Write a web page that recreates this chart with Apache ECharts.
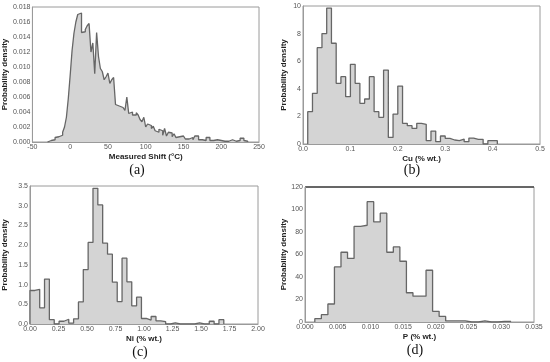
<!DOCTYPE html>
<html><head><meta charset="utf-8">
<script src="https://cdn.jsdelivr.net/npm/echarts@6/dist/echarts.min.js"></script>
<style>html,body{margin:0;padding:0;background:#fff}#c{width:550px;height:362px}</style>
</head><body><div id="c"></div>
<script>
// ---- Data ----
const shiftBinStart = -30, shiftBinWidth = 2.5;
const shiftDensity = [0.0001,0.0002,0.0002,0.0003,0.0006,0.0007,0.0008,0.0009,0.0013,0.0020,0.0033,0.0058,
0.0089,0.0122,0.0145,0.0160,0.0170,0.0172,0.0146,0.0147,0.0150,0.0155,0.0158,0.0120,0.0132,0.0091,0.0146,0.0114,
0.0098,0.0094,0.0083,0.0087,0.0092,0.0078,0.0083,0.0086,0.0050,0.0048,0.0047,0.0046,0.0044,0.0042,0.0060,0.0038,
0.0040,0.0036,0.0036,0.0039,0.0036,0.0030,0.0027,0.0033,0.0020,0.0024,0.0022,0.0018,0.0021,0.0015,0.0013,0.0017,
0.0015,0.0009,0.0018,0.0008,0.0013,0.0012,0.0007,0.0011,0.0006,0.0007,0.0009,0.0008,0.0007,0.0004,0.0004,0.0006,
0.0006,0.0003,0.0008,0.0008,0.0003,0.0003,0.0002,0.0002,0.0006,0.0006,0.0002,0.0002,0.0003,0.0003,0.0003,0.0002,
0.0001,0.0001,0.0001,0.0001,0.0001,0.0003,0.0001,0.0001,0.0001,0.0002,0.0005,0.0005,0.0002,0.0001];

const cuBinStart = 0.01, cuBinWidth = 0.01;
const cuDensity = [2.34,3.67,6.98,8.0,9.85,7.3,4.4,4.88,3.43,5.77,4.4,2.95,3.26,4.88,2.34,1.93,5.36,0.48,2.17,4.2,
1.5,1.33,1.13,1.5,1.43,0.24,0.94,0.17,0.58,0.41,0.29,0.24,0.36,0.17,0.43,0.34,0.34,0,0.24,0.24];

const niBinStart = 0, niBinWidth = 0.0425;
const niDensity = [0.85,0.88,0.41,1.14,0.11,0,0.07,0.12,0.02,0.13,0.56,1.38,2.07,3.44,3.02,2.05,1.77,1.06,0.57,1.67,
1.07,0.46,0.68,0.14,0.10,0.19,0.08,0.06,0,0.03,0,0,0,0,0.03,0,0,0.07,0,0.11];

const pBinStart = 0.0015, pBinWidth = 0.001;
const pDensity = [3,6.5,16,49,62,56.5,85,86,107,89,96.7,62,66.7,54,26,23,23,46,9.5,5,1,1,1,0,0,1,0,0,0.6,0.6];

const xTitles = ['Measured Shift (°C)', 'Cu (% wt.)', 'Ni (% wt.)', 'P (% wt.)'];
const yTitle = 'Probability density';
const panelLabels = ['(a)', '(b)', '(c)', '(d)'];

// ---- Build ----
function stepData(start, width, vals) {
  const d = [[start, 0]];
  vals.forEach((v, i) => d.push([start + i * width, v]));
  d.push([start + vals.length * width, 0]);
  return d;
}
const panels = [
  {data: stepData(shiftBinStart, shiftBinWidth, shiftDensity), grid:{left:31,top:7,width:228,height:135},
   x:{min:-50,max:250,interval:50,fmt:v=>String(v)}, y:{min:0,max:0.018,interval:0.002,fmt:v=>v.toFixed(3)}, yGap:23},
  {data: stepData(cuBinStart, cuBinWidth, cuDensity), grid:{left:303,top:6,width:237,height:138},
   x:{min:0,max:0.5,interval:0.1,fmt:v=>v.toFixed(1)}, y:{min:0,max:10,interval:2,fmt:v=>String(v)}, yGap:15},
  {data: stepData(niBinStart, niBinWidth, niDensity), grid:{left:28,top:186,width:230,height:138},
   x:{min:0,max:2,interval:0.25,fmt:v=>v.toFixed(2)}, y:{min:0,max:3.5,interval:0.5,fmt:v=>v.toFixed(1)}, yGap:21},
  {data: stepData(pBinStart, pBinWidth, pDensity), grid:{left:305,top:187,width:229,height:135},
   x:{min:0,max:0.035,interval:0.005,fmt:v=>v.toFixed(3)}, y:{min:0,max:120,interval:20,fmt:v=>String(v)}, yGap:17}
];
const labelPos = [[137,170],[412,170],[140,352],[415,350]];

const tickLabel = {color:'#555', fontSize:7, fontFamily:'Liberation Sans', margin:2};
const titleStyle = {color:'#222', fontSize:8, fontWeight:'bold', fontFamily:'Liberation Sans'};
const option = {
  animation:false,
  backgroundColor:'#fff',
  grid: panels.map(p => Object.assign({show:true, borderColor:'#9a9a9a', borderWidth:1, backgroundColor:'#fff'}, p.grid)),
  xAxis: panels.map((p,i) => ({type:'value', gridIndex:i, min:p.x.min, max:p.x.max, interval:p.x.interval,
    name:xTitles[i], nameLocation:'middle', nameGap:11, nameTextStyle:titleStyle,
    axisLine:{show:true, onZero:false, lineStyle:{color:'#9a9a9a', width:1}}, axisTick:{show:false}, splitLine:{show:false},
    axisLabel:Object.assign({formatter:p.x.fmt, showMinLabel:true, showMaxLabel:true}, tickLabel)})),
  yAxis: panels.map((p,i) => ({type:'value', gridIndex:i, min:p.y.min, max:p.y.max, interval:p.y.interval,
    name:yTitle, nameLocation:'middle', nameGap:p.yGap, nameTextStyle:titleStyle,
    axisLine:{show:true, onZero:false, lineStyle:{color:'#9a9a9a', width:1}}, axisTick:{show:false}, splitLine:{show:false},
    axisLabel:Object.assign({formatter:p.y.fmt}, tickLabel)})),
  series: panels.map((p,i) => ({type:'line', xAxisIndex:i, yAxisIndex:i, step:'end', data:p.data,
    symbol:'none', lineStyle:{color:'#666', width:1.3}, areaStyle:{color:'#d4d4d4', opacity:1}})),
  graphic: panelLabels.map((t,i) => ({type:'text', x:labelPos[i][0], y:labelPos[i][1],
    style:{text:t, fontSize:14, fontFamily:'Liberation Serif', fill:'#111', textAlign:'center', textVerticalAlign:'middle'}}))
    .concat([{type:'line', shape:{x1:305, y1:187, x2:534, y2:187}, style:{stroke:'#444', lineWidth:1.5}}])
};
echarts.init(document.getElementById('c'), null, {renderer:'canvas'}).setOption(option);
</script></body></html>
